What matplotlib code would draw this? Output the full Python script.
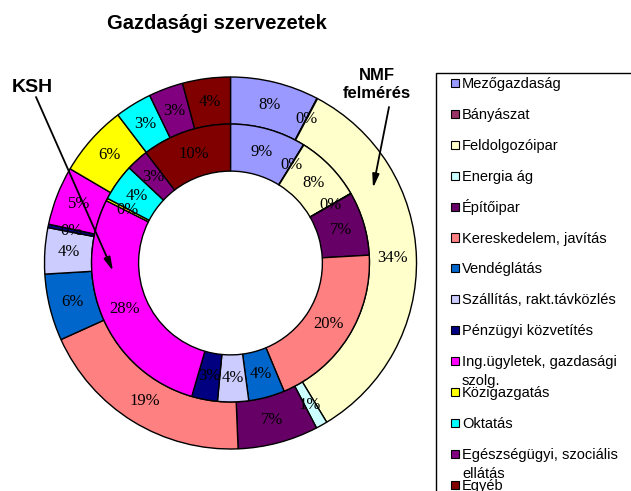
import matplotlib.pyplot as plt
from matplotlib.patches import Rectangle

categories = ['Mezőgazdaság', 'Bányászat', 'Feldolgozóipar', 'Energia ág', 'Építőipar',
              'Kereskedelem, javítás', 'Vendéglátás', 'Szállítás, rakt.távközlés',
              'Pénzügyi közvetítés', 'Ing.ügyletek, gazdasági\nszolg.', 'Közigazgatás',
              'Oktatás', 'Egészségügyi, szociális\nellátás', 'Egyéb']
colors = ['#9999FF', '#993366', '#FFFFCC', '#CCFFFF', '#660066', '#FF8080', '#0066CC',
          '#CCCCFF', '#000080', '#FF00FF', '#FFFF00', '#00FFFF', '#800080', '#800000']

# outer ring: NMF felmérés, inner ring: KSH (percent)
nmf = [7.7, 0.05, 33.6, 1.0, 7.0, 18.9, 5.8, 4.0, 0.3, 5.1, 6.2, 3.2, 3.0, 4.15]
ksh = [8.8, 0.05, 7.8, 0.05, 7.4, 19.6, 4.2, 3.6, 3.0, 27.9, 0.3, 4.3, 2.6, 10.4]

W, H = 631, 491
fig = plt.figure(figsize=(W / 100, H / 100), dpi=100)

# pie axes, center (230.5, 263) px, radius 186 px
cx, cy, r = 230.5, 263, 186
half = r * 1.02
ax = fig.add_axes([(cx - half) / W, (H - cy - half) / H, 2 * half / W, 2 * half / H])

ring = 0.253
wp = dict(width=ring, edgecolor='black', linewidth=1.0)
tp = dict(family='Liberation Serif', fontsize=12, color='black')

ax.pie(nmf, radius=1.0, colors=colors, startangle=90, counterclock=False,
       wedgeprops=wp, autopct='%.0f%%', pctdistance=1 - ring / 2, textprops=tp)
r_in = 1 - ring
ax.pie(ksh, radius=r_in, colors=colors, startangle=90, counterclock=False,
       wedgeprops=wp, autopct='%.0f%%', pctdistance=(r_in - ring / 2) / r_in, textprops=tp)
ax.set_xlim(-1.02, 1.02)
ax.set_ylim(-1.02, 1.02)
ax.axis('off')

def fx(x):
    return x / W

def fy(y):
    return 1 - y / H

fig.text(fx(217), fy(29), 'Gazdasági szervezetek', ha='center', va='baseline',
         family='Liberation Sans', fontweight='bold', fontsize=14.5)
fig.text(fx(32), fy(92), 'KSH', ha='center', va='baseline',
         family='Liberation Sans', fontweight='bold', fontsize=14)
fig.text(fx(377), fy(80), 'NMF', ha='center', va='baseline',
         family='Liberation Sans', fontweight='bold', fontsize=12)
fig.text(fx(377), fy(98), 'felmérés', ha='center', va='baseline',
         family='Liberation Sans', fontweight='bold', fontsize=12)

arrow = dict(arrowstyle='-|>,head_width=0.2,head_length=0.8', color='black', lw=1.3,
             shrinkA=0, shrinkB=0)
fig.add_artist(plt.Annotation('', xy=(fx(113), fy(271)), xytext=(fx(36), fy(97)),
                              xycoords='figure fraction', arrowprops=arrow))
fig.add_artist(plt.Annotation('', xy=(fx(373), fy(188)), xytext=(fx(389), fy(107)),
                              xycoords='figure fraction', arrowprops=arrow))

# legend box
fig.add_artist(Rectangle((fx(436), fy(700)), fx(300), (700 - 73) / H,
                         transform=fig.transFigure, facecolor='white',
                         edgecolor='black', linewidth=1.0))
for i, (name, col) in enumerate(zip(categories, colors)):
    yc = 83 + i * 30.9
    fig.add_artist(Rectangle((fx(451), fy(yc + 4)), fx(8), 8 / H,
                             transform=fig.transFigure, facecolor=col,
                             edgecolor='black', linewidth=0.8))
    for j, line in enumerate(name.split('\n')):
        fig.text(fx(462), fy(yc + 5 + j * 19), line, ha='left', va='baseline',
                 family='Liberation Sans', fontsize=10.5)

fig.savefig('out.png', dpi=100)
